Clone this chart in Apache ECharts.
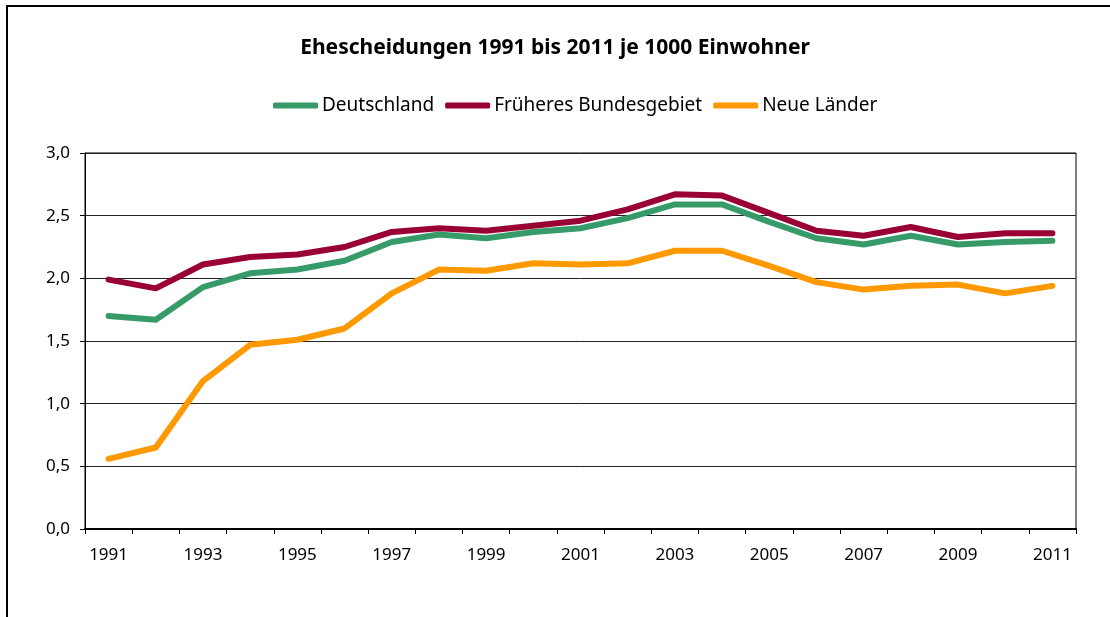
<!DOCTYPE html>
<html>
  <head>
    <meta http-equiv="Content-Type" content="text/html; charset=UTF-8">
    <title>Ehescheidungen</title>
    <style type="text/css">
      * {margin: 0; padding: 0;}
      body {background: #fff;}
      #chart {width: 1110px; height: 617px;}
    </style>
  </head>
  <body>
    <div id="chart"></div>

    <script src="https://cdn.jsdelivr.net/npm/echarts@6/dist/echarts.min.js" charset="utf-8"></script>
    <script type="text/javascript">
      // Jahre 1991 - 2011
      var years = ['1991','1992','1993','1994','1995','1996','1997','1998','1999','2000',
                   '2001','2002','2003','2004','2005','2006','2007','2008','2009','2010','2011'];

      // Ehescheidungen je 1000 Einwohner
      var deutschland = [1.70,1.67,1.93,2.04,2.07,2.14,2.29,2.35,2.32,2.37,
                         2.40,2.48,2.59,2.59,2.45,2.32,2.27,2.34,2.27,2.29,2.30];
      var bundesgebiet = [1.99,1.92,2.11,2.17,2.19,2.25,2.37,2.40,2.38,2.42,
                          2.46,2.55,2.67,2.66,2.52,2.38,2.34,2.41,2.33,2.36,2.36];
      var neueLaender = [0.56,0.65,1.18,1.47,1.51,1.60,1.88,2.07,2.06,2.12,
                         2.11,2.12,2.22,2.22,2.10,1.97,1.91,1.94,1.95,1.88,1.94];

      var seriesNames = ['Deutschland', 'Früheres Bundesgebiet', 'Neue Länder'];
      var colors = ['#379b69', '#990033', '#ff9900'];

      var font = 'Noto Sans';

      function lineSeries(name, data, color) {
        return {
          name: name,
          type: 'line',
          data: data,
          symbol: 'none',
          smooth: false,
          color: color,
          lineStyle: {width: 6, color: color, cap: 'round', join: 'round'}
        };
      }

      var chart = echarts.init(document.getElementById('chart'));
      var option = {
        animation: false,
        backgroundColor: '#fff',
        title: {
          text: 'Ehescheidungen 1991 bis 2011 je 1000 Einwohner',
          left: 'center',
          top: 33,
          textStyle: {fontFamily: font, fontSize: 21, fontWeight: 'bold', color: '#000'}
        },
        legend: {
          data: seriesNames,
          top: 91,
          left: 268,
          icon: 'roundRect',
          itemWidth: 45,
          itemHeight: 6,
          itemGap: 11,
          textStyle: {fontFamily: font, fontSize: 19, color: '#000', padding: [0, 0, 0, -1]}
        },
        graphic: [
          {
            type: 'rect',
            shape: {x: 7, y: 6, width: 1300, height: 800},
            style: {fill: 'none', stroke: '#000', lineWidth: 2},
            silent: true
          }
        ],
        grid: {
          left: 85,
          right: 34,
          top: 153,
          bottom: 88,
          show: true,
          borderColor: '#000',
          borderWidth: 1
        },
        xAxis: {
          type: 'category',
          data: years,
          boundaryGap: true,
          axisLine: {lineStyle: {color: '#000', width: 2}},
          axisTick: {show: true, interval: 0, length: 5, lineStyle: {color: '#000'}},
          axisLabel: {interval: 1, margin: 18, fontFamily: font, fontSize: 17, color: '#000'},
          splitLine: {show: false}
        },
        yAxis: {
          type: 'value',
          min: 0,
          max: 3,
          interval: 0.5,
          axisLine: {show: true, lineStyle: {color: '#000', width: 1}},
          axisTick: {show: true, length: 5, lineStyle: {color: '#000'}},
          axisLabel: {
            margin: 15,
            fontFamily: font,
            fontSize: 17,
            color: '#000',
            formatter: function (v) { return v.toFixed(1).replace('.', ','); }
          },
          splitLine: {show: true, lineStyle: {color: '#222', width: 1}}
        },
        series: [
          lineSeries(seriesNames[0], deutschland, colors[0]),
          lineSeries(seriesNames[1], bundesgebiet, colors[1]),
          lineSeries(seriesNames[2], neueLaender, colors[2])
        ]
      };

      chart.setOption(option);
    </script>
  </body>
</html>
